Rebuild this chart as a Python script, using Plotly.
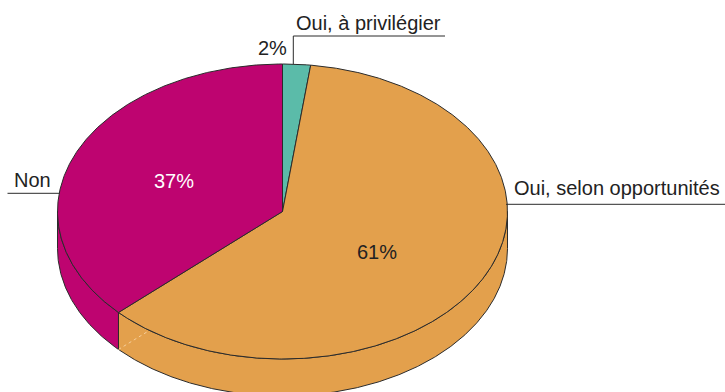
import numpy as np
import plotly.graph_objects as go

# Survey answers, clockwise from 12 o'clock
labels = ["Oui, à privilégier", "Oui, selon opportunités", "Non"]
values = [2, 61, 37]
colors = ["#5BBBA9", "#E3A04C", "#BE0470"]

W, H = 725, 392
CX, CY, RX, RY, DEPTH = 282.5, 211.5, 225.0, 147.5, 37.0
EDGE = "#2b2b2b"
FONT = "Liberation Sans, Arial, sans-serif"

# placement of the percentage labels and of the category labels
pct_pos = [(272, 48), (377, 252), (174, 181)]
name_pos = [(294, 23), (512, 188), (12, 180)]
# leader lines: list of segments per category
leaders = [
    [((293.3, 64), (293.3, 36)), ((293.3, 36), (445, 36))],
    [((506, 204.3), (725, 204.3))],
    [((59.5, 193.3), (7.5, 193.3))],
]


def ell(theta_deg, dy=0.0):
    t = np.radians(theta_deg)
    return CX + RX * np.sin(t), CY - RY * np.cos(t) + dy


total = float(sum(values))
bounds = np.concatenate([[0.0], np.cumsum(values)]) / total * 360.0

fig = go.Figure()

# side walls (only the front half, 90..270 deg, is visible)
for i in range(len(values)):
    a, b = bounds[i], bounds[i + 1]
    lo, hi = max(a, 90.0), min(b, 270.0)
    if lo >= hi:
        continue
    th = np.linspace(lo, hi, max(int((hi - lo) * 3), 4))
    xt, yt = ell(th)
    xb, yb = ell(th[::-1], DEPTH)
    xs = np.concatenate([xt, xb, xt[:1]])
    ys = np.concatenate([yt, yb, yt[:1]])
    fig.add_trace(go.Scatter(x=xs, y=ys, mode="lines", fill="toself",
                             fillcolor=colors[i],
                             line=dict(color=EDGE, width=1),
                             hoverinfo="skip", showlegend=False))

# faint see-through seam of the boundary between the last two slices
corner = np.array(ell(bounds[2], DEPTH))
bcen = np.array([CX, CY + DEPTH])
s = np.linspace(0, 1, 2000)
pts = corner[None, :] + s[:, None] * (bcen - corner)[None, :]
inside = ((pts[:, 0] - CX) / RX) ** 2 + ((pts[:, 1] - CY) / RY) ** 2 <= 1
stop = pts[np.argmax(inside)]
fig.add_trace(go.Scatter(x=[corner[0], stop[0]], y=[corner[1], stop[1]],
                         mode="lines",
                         line=dict(color="#f6cf9c", width=1, dash="dot"),
                         hoverinfo="skip", showlegend=False))

# top faces
for i in range(len(values)):
    a, b = bounds[i], bounds[i + 1]
    th = np.linspace(a, b, max(int((b - a) * 3), 4))
    xa, ya = ell(th)
    xs = np.concatenate([[CX], xa, [CX]])
    ys = np.concatenate([[CY], ya, [CY]])
    fig.add_trace(go.Scatter(x=xs, y=ys, mode="lines", fill="toself",
                             fillcolor=colors[i],
                             line=dict(color=EDGE, width=1),
                             hoverinfo="skip", showlegend=False))

# leader lines
shapes = []
for segs in leaders:
    for (x0, y0), (x1, y1) in segs:
        shapes.append(dict(type="line", xref="x", yref="y",
                           x0=x0, y0=y0, x1=x1, y1=y1,
                           line=dict(color=EDGE, width=1)))

annotations = []
for i, v in enumerate(values):
    px, py = pct_pos[i]
    pct = round(v / total * 100)
    annotations.append(dict(x=px, y=py, xref="x", yref="y",
                            text=f"{pct}%", showarrow=False,
                            xanchor="center", yanchor="middle",
                            font=dict(family=FONT, size=20,
                                      color="#ffffff" if i == 2 else "#222222")))
    nx, ny = name_pos[i]
    annotations.append(dict(x=nx, y=ny, xref="x", yref="y",
                            text=labels[i], showarrow=False,
                            xanchor="left", yanchor="middle",
                            font=dict(family=FONT, size=20, color="#222222")))

fig.update_layout(
    width=W, height=H, autosize=False,
    margin=dict(l=0, r=0, t=0, b=0),
    paper_bgcolor="white", plot_bgcolor="white",
    xaxis=dict(range=[0, W], visible=False, fixedrange=True),
    yaxis=dict(range=[H, 0], visible=False, fixedrange=True),
    shapes=shapes, annotations=annotations,
    showlegend=False,
)

fig.write_html("out.html")
